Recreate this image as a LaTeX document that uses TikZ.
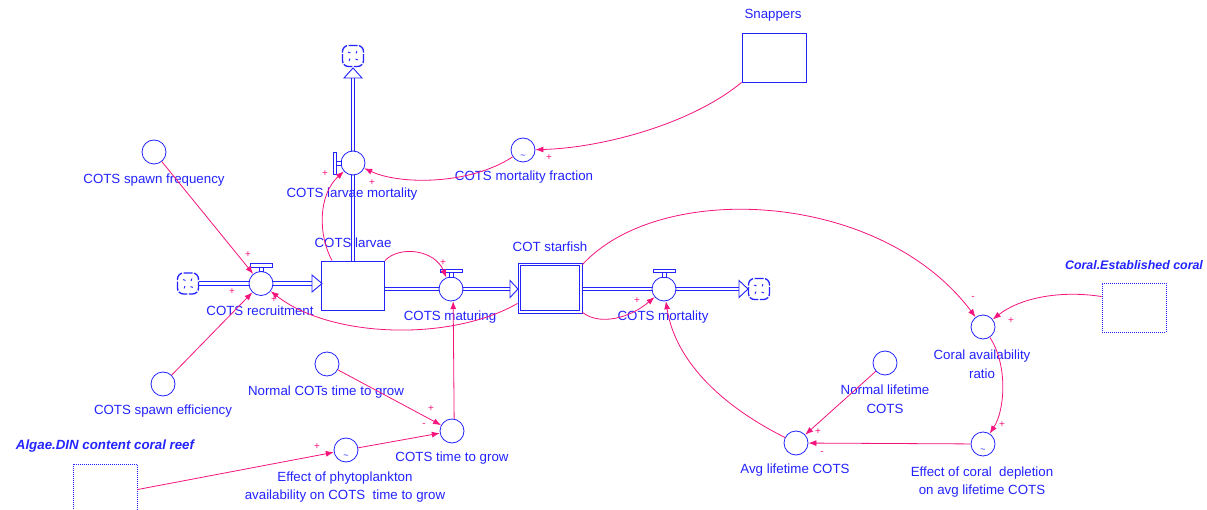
\documentclass[tikz,border=0pt]{standalone}
\usepackage{fontspec}
\setmainfont{Liberation Sans}
\usetikzlibrary{arrows.meta,calc,backgrounds}
\definecolor{sblue}{RGB}{35,35,255}
\definecolor{spink}{RGB}{245,20,125}
\begin{document}
\begin{tikzpicture}[x=1pt,y=-1pt,
 aux/.style={circle,draw=sblue,fill=white,minimum size=24pt,inner sep=0pt,line width=0.8pt},
 lbl/.style={text=sblue,font=\fontsize{13.3}{18.5}\selectfont,inner sep=0pt,align=center},
 ilbl/.style={text=sblue,font=\fontsize{13.3}{15}\selectfont\bfseries\itshape,inner sep=0pt},
 stock/.style={draw=sblue,fill=white,line width=0.9pt,minimum width=63pt,minimum height=49pt,inner sep=0pt},
 ghost/.style={draw=sblue,dash pattern=on 1pt off 1pt,line width=0.9pt,minimum width=64pt,minimum height=49pt,inner sep=0pt},
 cloudn/.style={draw=sblue,rounded corners=6pt,dash pattern=on 9pt off 1.5pt,minimum size=21pt,inner sep=0pt,line width=1.3pt,fill=white,
   path picture={\foreach \a in {40,130,220,310}{\draw[sblue,line width=0.9pt] (path picture bounding box.center) ++(\a:4pt) -- ++(\a+30:2.5pt);}}},
 pipe/.style={draw=sblue,line width=0.9pt,double=white,double distance=2.6pt},
 tri/.style={draw=sblue,fill=white,line width=0.9pt},
 handle/.style={draw=sblue,fill=white,line width=0.9pt},
 conn/.style={draw=spink,line width=0.8pt,-{Latex[length=8pt,width=6pt]}},
 sgn/.style={text=spink,font=\fontsize{10}{10}\selectfont,inner sep=0pt},
 tld/.style={text=sblue,font=\fontsize{9}{9}\selectfont,inner sep=0pt}
]
\path[use as bounding box] (0,0) rectangle (1207,510);
% stocks
\node[stock] (larvae) at (353,285.5) {};
\node[lbl] (larvaeL) at (353,243) {COTS larvae};
\node[stock,minimum width=64pt,minimum height=50pt] (starfish) at (550,288) {};
\draw[sblue,line width=0.9pt] ($(starfish.south west)+(3,-3)$) rectangle ($(starfish.north east)+(-3,3)$);
\node[lbl] (starfishL) at (550,247) {COT starfish};
\node[stock,minimum width=64pt] (snappers) at (774,57.5) {};
\node[lbl] (snappersL) at (773,15) {Snappers};
\node[ghost] (coralest) at (1134,307.5) {};
\node[ilbl,font=\fontsize{12.4}{15}\selectfont\bfseries\itshape] (coralestL) at (1134,265) {Coral.Established coral};
\node[ghost,minimum height=56pt] (algae) at (105,492) {};
\node[ilbl] (algaeL) at (105,446) {Algae.DIN content coral reef};
% clouds
\node[cloudn] (cloudTop) at (353,56) {};
\node[cloudn] (cloudL) at (188,283.5) {};
\node[cloudn] (cloudR) at (759,289) {};
% flow coordinates
\coordinate (topTri) at (353,78);
\coordinate (recTri) at (312,283.5);
\coordinate (matTri) at (510,289);
\coordinate (morTri) at (739,289);
\begin{pgfonlayer}{background}
\fill[white] (0,0) rectangle (1207,510);
\draw[pipe] (larvae.north) -- (topTri);
\draw[pipe] (cloudL.east) -- (recTri);
\draw[pipe] (larvae.east |- matTri) -- (matTri);
\draw[pipe] (starfish.east |- morTri) -- (morTri);
\end{pgfonlayer}
\draw[tri] ($(topTri)+(-9,0)$) -- ($(topTri)+(9,0)$) -- ($(topTri)+(0,-10)$) -- cycle;
\draw[tri] ($(recTri)+(0,-8.5)$) -- ($(recTri)+(0,8.5)$) -- ($(recTri)+(10,0)$) -- cycle;
\draw[tri] ($(matTri)+(0,-8.5)$) -- ($(matTri)+(0,8.5)$) -- ($(matTri)+(8,0)$) -- cycle;
\draw[tri] ($(morTri)+(0,-8.5)$) -- ($(morTri)+(0,8.5)$) -- ($(morTri)+(9,0)$) -- cycle;
% valves and auxiliaries
\node[aux] (recruit) at (261,283.5) {};
\node[aux] (maturing) at (451,289) {};
\node[aux] (mortality) at (664,289) {};
\node[aux] (larvmort) at (353,163) {};
\node[aux] (fraction) at (523,150) {};
\node[aux] (freq) at (154,152) {};
\node[aux] (eff) at (163,384) {};
\node[aux] (normgrow) at (327,364) {};
\node[aux] (timegrow) at (452,431) {};
\node[aux] (phyto) at (346,450) {};
\node[aux] (ratio) at (983,327) {};
\node[aux] (normlife) at (885,363) {};
\node[aux] (avglife) at (796,443) {};
\node[aux] (effcoral) at (983,444) {};
% handles
\foreach \v in {recruit,maturing,mortality}{
  \draw[handle] ($(\v)+(-11,-20)$) rectangle ($(\v)+(11,-16.5)$);
  \draw[handle] ($(\v)+(-2,-16.5)$) rectangle ($(\v)+(2,-12)$);
}
\draw[handle] ($(larvmort)+(-20,-11)$) rectangle ($(larvmort)+(-16.5,11)$);
\draw[handle] ($(larvmort)+(-16.5,-2)$) rectangle ($(larvmort)+(-12,2)$);
% tildes
\node[tld] (t1) at ($(fraction)+(0,7)$) {\textasciitilde};
\node[tld] (t2) at ($(phyto)+(0,7)$) {\textasciitilde};
\node[tld] (t3) at ($(effcoral)+(0,7)$) {\textasciitilde};
% labels
\node[lbl] (freqL) at (154,180) {COTS spawn frequency};
\node[lbl] (recruitL) at (260,311) {COTS recruitment};
\node[lbl] (maturingL) at (450,317) {COTS maturing};
\node[lbl] (mortalityL) at (663,317) {COTS mortality};
\node[lbl] (larvmortL) at (352,194) {COTS larvae mortality};
\node[lbl] (fractionL) at (524,177) {COTS mortality fraction};
\node[lbl] (effL) at (163,411) {COTS spawn efficiency};
\node[lbl] (normgrowL) at (326,392) {Normal COTs time to grow};
\node[lbl] (timegrowL) at (452,458) {COTS time to grow};
\node[lbl] (phytoL) at (345,487) {Effect of phytoplankton\\availability on COTS\ \ time to grow};
\node[lbl] (ratioL) at (982,364) {Coral availability\\ratio};
\node[lbl] (normlifeL) at (885,399) {Normal lifetime\\COTS};
\node[lbl] (avglifeL) at (795,470) {Avg lifetime COTS};
\node[lbl] (effcoralL) at (982,482) {Effect of coral\ \ depletion\\on avg lifetime COTS};
% connectors
\draw[conn] (freq) -- (recruit);
\draw[conn] (eff) -- (recruit);
\draw[conn] ($(starfish.south west)+(0,-10)$) .. controls (450,342) and (330,338) .. (recruit);
\draw[conn] (larvae.north east) .. controls (400,245) and (435,250) .. (maturing);
\draw[conn] ($(larvae.north west)+(11,0)$) .. controls (318,235) and (318,195) .. (larvmort);
\draw[conn] (fraction) .. controls (470,185) and (400,185) .. (larvmort);
\draw[conn] (snappers.south west) .. controls (690,125) and (600,148) .. (fraction);
\draw[conn] (timegrow.80) -- (maturing.-80);
\draw[conn] (normgrow) -- (timegrow);
\draw[conn] (phyto) -- (timegrow);
\draw[conn] ($(algae.north east)+(0,26)$) -- (phyto);
\draw[conn] ($(starfish.south east)+(0,-1)$) .. controls (600,326) and (630,318) .. (mortality);
\draw[conn] (avglife) .. controls (720,405) and (675,360) .. (mortality);
\draw[conn] ($(starfish.north east)+(0,2)$) .. controls (660,180) and (880,190) .. (ratio);
\draw[conn] ($(coralest.north west)+(0,14)$) .. controls (1060,290) and (1020,298) .. (ratio);
\draw[conn] (ratio) .. controls (1008,365) and (1005,410) .. (effcoral);
\draw[conn] (effcoral) -- (avglife);
\draw[conn] (normlife) -- (avglife);
% polarity signs
\node[sgn] (p1) at (248,255) {+};
\node[sgn] (p2) at (232,292) {+};
\node[sgn] (p3) at (274,300) {+};
\node[sgn] (p4) at (443,263) {+};
\node[sgn] (p5) at (325,174) {+};
\node[sgn] (p6) at (372,183) {+};
\node[sgn] (p7) at (549,158) {+};
\node[sgn] (p8) at (637,301) {+};
\node[sgn] (p9) at (973,298) {-};
\node[sgn] (p10) at (1011,321) {+};
\node[sgn] (p11) at (1002,425) {+};
\node[sgn] (p12) at (822,453) {-};
\node[sgn] (p13) at (818,432) {+};
\node[sgn] (p14) at (431,409) {+};
\node[sgn] (p15) at (424,425) {-};
\node[sgn] (p16) at (317,447) {+};
\end{tikzpicture}
\end{document}
